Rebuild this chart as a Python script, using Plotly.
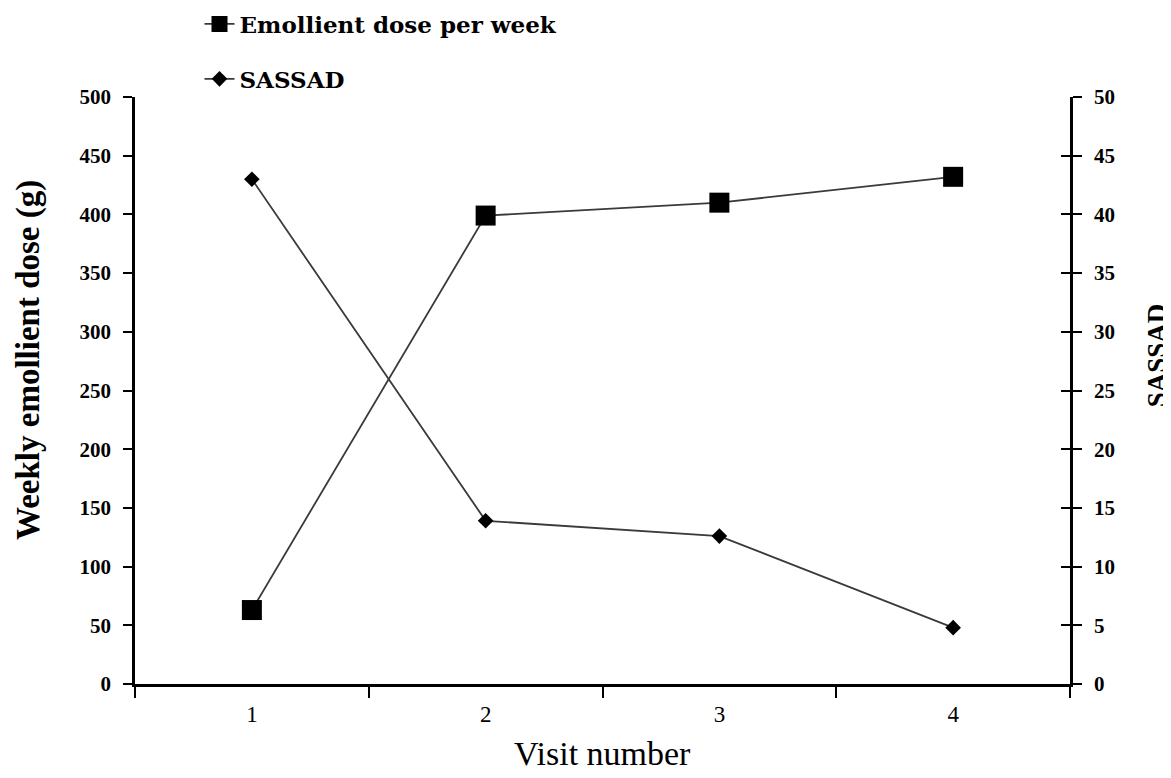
import plotly.graph_objects as go

visits = [1, 2, 3, 4]
visit_labels = ["1", "2", "3", "4"]
emollient = [63, 399, 410, 432]
sassad = [43.0, 13.9, 12.6, 4.8]

FONT = "Liberation Serif"
LEG_FONT = "DejaVu Serif"

fig = go.Figure()
fig.add_trace(go.Scatter(
    x=visits, y=emollient, name="<b>Emollient dose per week</b>",
    mode="lines+markers", legendgroup="a",
    line=dict(color="#3a3a3a", width=1.8),
    marker=dict(symbol="square", size=20, color="black"),
    yaxis="y"))
fig.add_trace(go.Scatter(
    x=visits, y=sassad, name="<b>SASSAD</b>",
    mode="lines+markers", legendgroup="b",
    line=dict(color="#3a3a3a", width=1.8),
    marker=dict(symbol="diamond", size=12, color="black"),
    yaxis="y2"))
# invisible trace to carry inner ticks on the right axis
fig.add_trace(go.Scatter(x=visits, y=sassad, yaxis="y3", mode="none",
                         showlegend=False, hoverinfo="skip"))

fig.update_layout(
    width=1163, height=770,
    margin=dict(l=127, r=101, t=89, b=94, autoexpand=False),
    paper_bgcolor="white", plot_bgcolor="white",
    font=dict(family=FONT, color="black"),
    showlegend=True,
    legend=dict(x=0.069, y=1.161, xanchor="left", yanchor="top",
                font=dict(family=LEG_FONT, size=23, color="black"),
                tracegroupgap=22, traceorder="grouped",
                bgcolor="rgba(0,0,0,0)"),
    xaxis=dict(
        range=[0.5, 4.5], tickvals=visits, ticktext=visit_labels,
        ticks="", showgrid=False, zeroline=False,
        showline=True, linecolor="black", linewidth=2.5,
        tickfont=dict(family=FONT, size=23, color="black"),
        ticklabelstandoff=8,
        minor=dict(tickmode="linear", tick0=0.5, dtick=1, ticks="outside",
                   ticklen=11, tickwidth=2, tickcolor="black", showgrid=False),
    ),
    yaxis=dict(
        range=[0, 500], dtick=50, ticks="outside", ticklen=9, tickwidth=2,
        tickcolor="black", showgrid=False, zeroline=False,
        showline=True, linecolor="black", linewidth=2.5,
        tickfont=dict(family=FONT, size=21, color="black"),
        tickprefix="<b>", ticksuffix="</b>", ticklabelstandoff=8,
    ),
    yaxis2=dict(
        range=[0, 50], dtick=5, overlaying="y", side="right",
        ticks="outside", ticklen=9, tickwidth=2, tickcolor="black",
        showgrid=False, zeroline=False,
        showline=True, linecolor="black", linewidth=2.5,
        tickfont=dict(family=FONT, size=21, color="black"),
        tickprefix="<b>", ticksuffix="</b>", ticklabelstandoff=8,
    ),
    yaxis3=dict(
        range=[0, 50], dtick=5, overlaying="y", side="right",
        ticks="inside", ticklen=9, tickwidth=2, tickcolor="black",
        showticklabels=False, showgrid=False, zeroline=False, showline=False,
    ),
    annotations=[
        dict(text="<b>Weekly emollient dose (g)</b>", textangle=-90,
             xref="paper", yref="paper", x=0, y=0.552, xanchor="center",
             yanchor="middle", xshift=-106, showarrow=False,
             font=dict(family=FONT, size=33, color="black")),
        dict(text="<b>SASSAD</b>", textangle=-90,
             xref="paper", yref="paper", x=1, y=0.56, xanchor="center",
             yanchor="middle", xshift=87, showarrow=False,
             font=dict(family=FONT, size=27, color="black")),
        dict(text="Visit number",
             xref="paper", yref="paper", x=0.5, y=0, xanchor="center",
             yanchor="top", yshift=-49, showarrow=False,
             font=dict(family=FONT, size=34, color="black")),
    ],
)

fig.write_html("out.html")
